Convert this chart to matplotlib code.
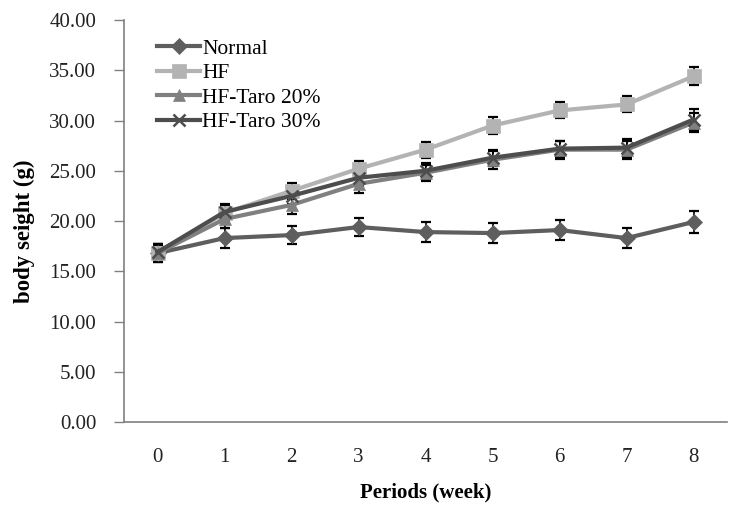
import numpy as np
import matplotlib.pyplot as plt

plt.rcParams['font.family'] = 'serif'
plt.rcParams['font.serif'] = ['Liberation Serif', 'DejaVu Serif']

# Body weight (g) by week, mean and SD
weeks = [0, 1, 2, 3, 4, 5, 6, 7, 8]
normal = [16.8, 18.3, 18.6, 19.4, 18.9, 18.8, 19.1, 18.3, 19.9]
hf = [16.8, 20.8, 23.0, 25.2, 27.1, 29.5, 31.0, 31.6, 34.4]
taro20 = [16.8, 20.2, 21.6, 23.7, 24.8, 26.1, 27.1, 27.1, 29.8]
taro30 = [16.9, 20.9, 22.5, 24.3, 25.0, 26.3, 27.2, 27.3, 30.1]

normal_sd = [0.9, 1.0, 0.9, 0.9, 1.0, 1.0, 1.0, 1.0, 1.1]
hf_sd = [0.8, 0.8, 0.8, 0.8, 0.8, 0.8, 0.8, 0.8, 0.9]
taro20_sd = [0.9, 0.9, 0.9, 0.9, 0.8, 0.9, 0.9, 0.9, 0.9]
taro30_sd = [0.8, 0.8, 0.8, 0.8, 0.8, 0.8, 0.8, 0.9, 1.0]

fig = plt.figure(figsize=(7.43, 5.09), dpi=100)
ax = fig.add_axes([0.1669, 0.1709, 0.8116, 0.7898])

series = [
    ('Normal', normal, normal_sd, '#5e5e5e', 'D', 8),
    ('HF', hf, hf_sd, '#b3b3b3', 's', 10),
    ('HF-Taro 20%', taro20, taro20_sd, '#808080', '^', 9),
    ('HF-Taro 30%', taro30, taro30_sd, '#4d4d4d', 'x', 9),
]

for name, vals, sd, col, mk, ms in series:
    ax.errorbar(weeks, vals, yerr=sd, fmt='none', ecolor='black',
                elinewidth=1.2, capsize=3.6, capthick=1.6, zorder=2)
    ax.plot(weeks, vals, color=col, lw=3, marker=mk, markersize=ms,
            markeredgewidth=1.8 if mk == 'x' else 0.5,
            markeredgecolor=col, label=name, zorder=3)

ax.set_xlim(-0.5, 8.5)
ax.set_ylim(0, 40)
ax.set_xticks(weeks)
ax.set_yticks(np.arange(0, 40.1, 5))
ax.set_yticklabels(['%.2f' % v for v in np.arange(0, 40.1, 5)])
ax.tick_params(axis='x', length=0, pad=19, labelsize=15, labelcolor='#222222')
ax.tick_params(axis='y', length=7, width=1, color='#808080', direction='out',
               pad=13, labelsize=15, labelcolor='#222222')

for s in ['top', 'right']:
    ax.spines[s].set_visible(False)
for s in ['left', 'bottom']:
    ax.spines[s].set_color('#808080')
    ax.spines[s].set_linewidth(1.2)

ax.set_xlabel('Periods (week)', fontsize=15, fontweight='bold', labelpad=11)
ax.set_ylabel('body seight (g)', fontsize=16.5, fontweight='bold')
ax.yaxis.set_label_coords(-0.147, 0.475)

ax.legend(loc='upper left', bbox_to_anchor=(0.055, 0.953), frameon=False,
          fontsize=15.5, handlelength=2.0, handletextpad=0.1,
          labelspacing=0.2, borderaxespad=0, borderpad=0)

fig.savefig('out.png', dpi=100)
